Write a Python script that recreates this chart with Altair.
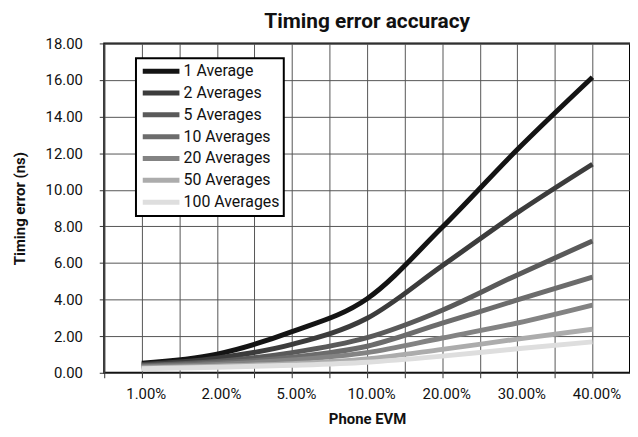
import altair as alt
import pandas as pd

categories = ["1.00%", "2.00%", "5.00%", "10.00%", "20.00%", "30.00%", "40.00%"]
series_names = ["1 Average", "2 Averages", "5 Averages", "10 Averages",
                "20 Averages", "50 Averages", "100 Averages"]

avg1 = [0.52, 1.02, 2.25, 4.05, 7.95, 12.20, 16.15]
avg2 = [0.45, 0.80, 1.55, 2.98, 5.85, 8.75, 11.40]
avg5 = [0.40, 0.62, 1.10, 1.92, 3.42, 5.35, 7.20]
avg10 = [0.36, 0.53, 0.85, 1.45, 2.71, 3.98, 5.23]
avg20 = [0.32, 0.45, 0.70, 1.10, 1.90, 2.72, 3.70]
avg50 = [0.26, 0.36, 0.50, 0.76, 1.28, 1.84, 2.38]
avg100 = [0.22, 0.30, 0.41, 0.58, 0.91, 1.31, 1.69]

series_values = [avg1, avg2, avg5, avg10, avg20, avg50, avg100]
colors = ["#141414", "#3c3c3c", "#5a5a5a", "#6c6c6c", "#838383", "#acacac", "#dedede"]

rows = []
for s, (name, vals) in enumerate(zip(series_names, series_values)):
    for i, (cat, v) in enumerate(zip(categories, vals)):
        rows.append({"series": name, "pos": 2 * i + 1, "evm": cat,
                     "value": v, "idx": i, "s": s})
df = pd.DataFrame(rows)

label_js = "[" + ",".join("'" + c + "'" for c in categories) + "]"
font = "Roboto, Liberation Sans, sans-serif"

chart = alt.Chart(df).mark_line(strokeWidth=5, interpolate="monotone").encode(
    x=alt.X("pos:Q",
            scale=alt.Scale(domain=[0, 14], nice=False, zero=False),
            axis=alt.Axis(values=list(range(15)),
                          labelExpr="datum.value % 2 == 1 ? " + label_js + "[(datum.value-1)/2] : ''",
                          title="Phone EVM", labelOffset=4, labelPadding=9,
                          titlePadding=10)),
    y=alt.Y("value:Q",
            scale=alt.Scale(domain=[0, 18], nice=False),
            axis=alt.Axis(values=list(range(0, 19, 2)), format=".2f",
                          title="Timing error (ns)", labelPadding=17,
                          titlePadding=18)),
    color=alt.Color("series:N",
                    scale=alt.Scale(domain=series_names, range=colors),
                    legend=alt.Legend(orient="none", legendX=32, legendY=15,
                                      title=None,
                                      symbolType="M-1,0H5",
                                      symbolSize=152,
                                      symbolStrokeWidth=5,
                                      labelOffset=26,
                                      rowPadding=2,
                                      padding=4,
                                      strokeColor="black",
                                      fillColor="white")),
    detail="s:N",
    order="idx:Q",
).properties(
    width=530, height=332,
    title=alt.TitleParams("Timing error accuracy", fontSize=21, font=font,
                          fontWeight="bold", color="#111", offset=5),
    autosize=alt.AutoSizeParams(type="none"),
    padding={"left": 97, "top": 34, "right": 0, "bottom": 60},
).configure_view(
    stroke="black", strokeWidth=2
).configure_axis(
    domain=False, grid=True, gridColor="#555", gridWidth=1,
    tickColor="#333", tickSize=5, tickWidth=1,
    labelFont=font, labelFontSize=15, labelColor="#111",
    titleFont=font, titleFontSize=15, titleFontWeight="bold", titleColor="#111",
).configure_legend(
    labelFont=font, labelFontSize=16, labelColor="#111", strokeWidth=2
)

chart.save("out.html", embed_options={"renderer": "svg", "actions": False})
